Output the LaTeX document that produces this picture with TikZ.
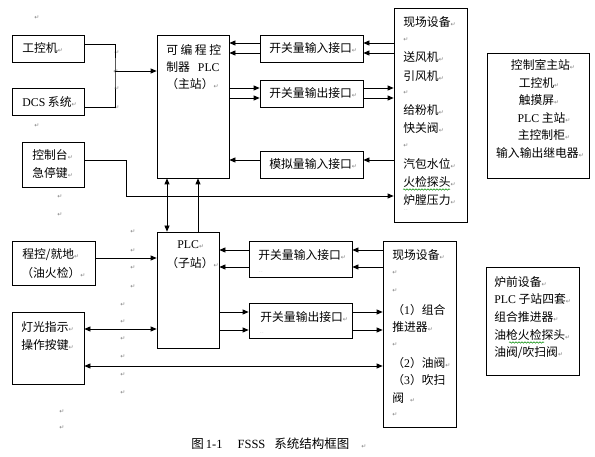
\documentclass[tikz,border=0pt]{standalone}
\usepackage{fontspec}
\setmainfont{Liberation Serif}
\newfontfamily\cjk{Noto Sans CJK SC}
\newfontfamily\djv{DejaVu Sans}
\usetikzlibrary{arrows.meta,fit,decorations.pathmorphing}
\newcommand\pmk{{\djv\fontsize{6}{6}\selectfont\textcolor{black!50}{↵}}}
\newcommand\lat[1]{{\rmfamily #1}}
\begin{document}
\begin{tikzpicture}[x=1pt,y=-1pt,line width=0.75pt,
  >={Triangle[length=6pt,width=5pt]},
  box/.style={draw,inner sep=0pt},
  txt/.style={inner sep=0pt,anchor=west,font=\cjk\fontsize{11.8}{13}\selectfont},
  ctxt/.style={txt,anchor=center},
  pm/.style={inner sep=0pt,font=\djv\fontsize{6}{6}\selectfont,text=black!50},
  tiny/.style={inner sep=0pt,font=\djv\fontsize{4}{4}\selectfont,text=black!40},
  wavy/.style={draw=green!55!black,line width=0.5pt,decorate,decoration={snake,amplitude=0.7pt,segment length=3pt}}]
\fill[white] (0,0) rectangle (595,457);
\useasboundingbox (0,0) rectangle (595,457);
% boxes
\node[box,fit={(12,35) (84,62)}] (gk) {};
\node[box,fit={(12,88) (84,115)}] (dcs) {};
\node[box,fit={(22,142) (84,187)}] (ctl) {};
\node[box,fit={(157,35) (229,178)}] (plc) {};
\node[box,fit={(260,35) (363,62)}] (in1) {};
\node[box,fit={(260,80) (363,107)}] (out1) {};
\node[box,fit={(260,151) (363,178)}] (an1) {};
\node[box,fit={(394,8) (467,222)}] (fd1) {};
\node[box,fit={(487,53) (589,178)}] (rb1) {};
\node[box,fit={(157,232) (219,348)}] (sub) {};
\node[box,fit={(12,241) (95,285)}] (pk) {};
\node[box,fit={(12,312) (84,384)}] (lt) {};
\node[box,fit={(249,241) (352,277)}] (in2) {};
\node[box,fit={(249,303) (352,338)}] (out2) {};
\node[box,fit={(383,241) (456,427)}] (fd2) {};
\node[box,fit={(486,267) (579,375)}] (rb2) {};
% texts
\node[txt] (t1) at (22,48.5) {工控机\pmk};
\node[txt] (t2) at (22,102) {\lat{DCS} 系统\pmk};
\node[txt] (t3) at (32,155) {控制台\pmk};
\node[txt] (t4) at (32,173) {急停键\pmk};
\node[txt] (p1) at (166,50) {可\hspace{2.5pt}编\hspace{2.5pt}程\hspace{2.5pt}控};
\node[txt] (p2) at (166,67) {制器\hspace{8pt}\lat{PLC}};
\node[txt] (p3) at (166,84) {（主站）\pmk};
\node[txt] (i1) at (269,48) {开关量输入接口\pmk};
\node[txt] (o1) at (269,93) {开关量输出接口\pmk};
\node[txt] (a1) at (269,164) {模拟量输入接口\pmk};
\node[txt] (f1) at (403,22) {现场设备\pmk};
\node[txt] (f2) at (403,40) {\pmk};
\node[txt] (f3) at (403,57) {送风机\pmk};
\node[txt] (f4) at (403,76) {引风机\pmk};
\node[txt] (f5) at (403,93) {\pmk};
\node[txt] (f6) at (403,110) {给粉机\pmk};
\node[txt] (f7) at (403,128) {快关阀\pmk};
\node[txt] (f8) at (403,146) {\pmk};
\node[txt] (f9) at (403,164) {汽包水位\pmk};
\node[txt] (f10) at (403,182) {火检探头\pmk};
\node[txt] (f11) at (403,200) {炉膛压力\pmk};
\node[tiny] (f12) at (406,210) {.\,.};
\node[ctxt] (r1) at (543,65) {控制室主站\pmk};
\node[ctxt] (r2) at (539,83) {工控机\pmk};
\node[ctxt] (r3) at (539,100) {触摸屏\pmk};
\node[ctxt] (r4) at (544,118) {\lat{PLC} 主站\pmk};
\node[ctxt] (r5) at (544,135) {主控制柜\pmk};
\node[ctxt] (r6) at (540,153) {输入输出继电器\pmk};
\node[txt] (s1) at (177,245) {\lat{PLC}\pmk};
\node[txt] (s2) at (166,263) {（子站）\pmk};
\node[txt] (k1) at (22,255) {程控/就地\pmk};
\node[txt] (k2) at (21,273) {（油火检）\pmk};
\node[txt] (l1) at (21,327) {灯光指示\pmk};
\node[txt] (l2) at (21,345) {操作按键\pmk};
\node[txt] (i2) at (258,255) {开关量输入接口\pmk};
\node[tiny] (i2d) at (261,272) {.\,.};
\node[txt] (o2) at (260,317) {开关量输出接口\pmk};
\node[tiny] (o2d) at (262,333) {.\,.};
\node[txt] (g1) at (392,255) {现场设备\pmk};
\node[txt] (g2) at (392,273) {\pmk};
\node[txt] (g3) at (392,291) {\pmk};
\node[txt] (g4) at (392,310) {（\lat{1}）组合};
\node[txt] (g5) at (392,327) {推进器\pmk};
\node[txt] (g6) at (392,345) {\pmk};
\node[txt] (g7) at (392,363) {（\lat{2}）油阀\pmk};
\node[txt] (g8) at (392,380) {（\lat{3}）吹扫};
\node[txt] (g9) at (392,398) {阀\hspace{6pt}\pmk};
\node[txt] (g10) at (392,415) {\pmk};
\node[txt] (b1) at (494,282) {炉前设备\pmk};
\node[txt] (b2) at (494,299) {\lat{PLC} 子站四套\pmk};
\node[txt] (b3) at (494,317) {组合推进器\pmk};
\node[txt] (b4) at (494,335) {油枪火检探头\pmk};
\node[txt] (b5) at (494,353) {油阀/吹扫阀\pmk};
\draw[wavy] (403,189.5) -- (450,189.5);
\draw[wavy] (509,342.5) -- (544,342.5);
\node[txt,font=\cjk\fontsize{12.5}{14}\selectfont] (cap) at (191,444) {图\,\lat{1-1}\hspace{15pt}\lat{FSSS}\hspace{9pt}系统结构框图\hspace{12pt}\pmk};
% stray paragraph marks
\foreach \x/\y [count=\i] in {37/18,117/53,116/72,117/89,117/108,37/126,60/197,60/215,133/232,133/251,133/268,133/287,123/305,123/322,123/339,123/357,123/375,123/393,62/412,62/428}
  \node[pm] (pm\i) at (\x,\y) {↵};
% connectors, top
\coordinate (j) at (115,71);
\draw (gk.east |- 0,44) -| (j) |- (dcs.east |- 0,107);
\draw[->] (j) -- (plc.west |- j);
\coordinate (c1) at (126,196);
\draw (ctl.east |- 0,160) -| (c1);
\draw[->] (c1) -- (fd1.west |- c1);
\draw[->] (fd1.west |- 0,43) -- (in1.east |- 0,43);
\draw[->] (fd1.west |- 0,53) -- (in1.east |- 0,53);
\draw[->] (in1.west |- 0,43) -- (plc.east |- 0,43);
\draw[->] (in1.west |- 0,53) -- (plc.east |- 0,53);
\draw[->] (plc.east |- 0,88) -- (out1.west |- 0,88);
\draw[->] (plc.east |- 0,98) -- (out1.west |- 0,98);
\draw[->] (out1.east |- 0,88) -- (fd1.west |- 0,88);
\draw[->] (out1.east |- 0,98) -- (fd1.west |- 0,98);
\draw[->] (fd1.west |- 0,160) -- (an1.east |- 0,160);
\draw[->] (an1.west |- 0,160) -- (plc.east |- 0,160);
% main <-> sub
\draw[<->] (plc.south -| 167,0) -- (sub.north -| 167,0);
\draw[->] (sub.north -| 198,0) -- (plc.south -| 198,0);
% bottom
\draw[->] (pk.east |- 0,258) -- (sub.west |- 0,258);
\draw[<->] (lt.east |- 0,329) -- (sub.west |- 0,329);
\draw[<->] (lt.east |- 0,366) -- (fd2.west |- 0,366);
\draw[->] (fd2.west |- 0,250) -- (in2.east |- 0,250);
\draw[->] (fd2.west |- 0,267) -- (in2.east |- 0,267);
\draw[->] (in2.west |- 0,250) -- (sub.east |- 0,250);
\draw[->] (in2.west |- 0,267) -- (sub.east |- 0,267);
\draw[->] (sub.east |- 0,312) -- (out2.west |- 0,312);
\draw[->] (sub.east |- 0,330) -- (out2.west |- 0,330);
\draw[->] (out2.east |- 0,312) -- (fd2.west |- 0,312);
\draw[->] (out2.east |- 0,330) -- (fd2.west |- 0,330);
\end{tikzpicture}
\end{document}
